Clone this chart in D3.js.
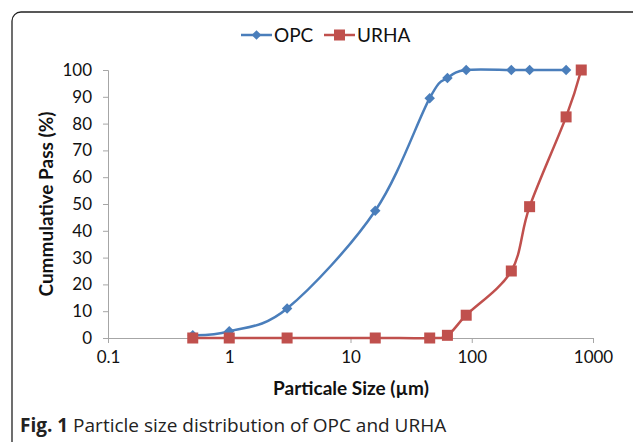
<!DOCTYPE html>
<html>
<head>
<meta charset="utf-8">
<script src="https://cdn.jsdelivr.net/npm/d3@7"></script>
<style>
    body { margin: 0; background: #fff; }
    svg { display: block; }
</style>
</head>
<body>
<div id="chart"></div>
<script>
// Particle size distribution data
const sizesOPC = [0.5, 1, 3, 16, 45, 63, 90, 212, 300, 600];
const passOPC = [1, 2.5, 11, 47.5, 89.5, 97, 100, 100, 100, 100];
const sizesURHA = [0.5, 1, 3, 16, 45, 63, 90, 212, 300, 600, 800];
const passURHA = [0, 0, 0, 0, 0, 1, 8.5, 25, 49, 82.5, 100];
const xTicks = [0.1, 1, 10, 100, 1000];
const yTicks = [0, 10, 20, 30, 40, 50, 60, 70, 80, 90, 100];
const seriesNames = ["OPC", "URHA"];

const W = 633, H = 442;
const chartFont = "Lato, 'Open Sans', sans-serif";
const blue = "#4a7ebb", red = "#c0504d", axisGrey = "#a6a6a6";

const svg = d3.select("#chart").append("svg")
    .attr("width", W)
    .attr("height", H);

// Outer rounded frame (runs off the right and bottom of the picture)
svg.append("rect")
    .attr("x", 12).attr("y", 12)
    .attr("width", 700).attr("height", 500)
    .attr("rx", 9)
    .attr("fill", "none")
    .attr("stroke", "#222")
    .attr("stroke-width", 1.3);

const x = d3.scaleLog().domain([0.1, 1000]).range([108, 593]);
const y = d3.scaleLinear().domain([0, 100]).range([338, 70]);

// Axes
const xAxis = svg.append("g")
    .attr("transform", `translate(0,${y(0)})`)
    .call(d3.axisBottom(x).tickValues(xTicks).tickSize(5).tickPadding(8)
        .tickFormat(d => String(d)));
const yAxis = svg.append("g")
    .attr("transform", `translate(${x(0.1)},0)`)
    .call(d3.axisLeft(y).tickValues(yTicks).tickSize(5).tickPadding(11));

[xAxis, yAxis].forEach(a => {
    a.select(".domain").attr("stroke", axisGrey).attr("stroke-width", 1);
    a.selectAll(".tick line").attr("stroke", axisGrey);
    a.selectAll(".tick text")
        .attr("fill", "#111")
        .style("font-family", chartFont)
        .style("font-size", "17px");
});

// Axis titles
svg.append("text")
    .attr("x", 351).attr("y", 395)
    .attr("text-anchor", "middle")
    .style("font-family", chartFont)
    .style("font-size", "19px")
    .style("font-weight", "bold")
    .attr("fill", "#111")
    .text("Particale Size (µm)");

svg.append("text")
    .attr("transform", "translate(53,204) rotate(-90)")
    .attr("text-anchor", "middle")
    .style("font-family", chartFont)
    .style("font-size", "19px")
    .style("font-weight", "bold")
    .attr("fill", "#111")
    .text("Cummulative Pass (%)");

// Series
const line = d3.line()
    .x(d => x(d[0]))
    .y(d => y(d[1]))
    .curve(d3.curveCardinal.tension(0));

const opc = sizesOPC.map((s, i) => [s, passOPC[i]]);
const urha = sizesURHA.map((s, i) => [s, passURHA[i]]);

svg.append("path")
    .datum(opc)
    .attr("d", line)
    .attr("fill", "none")
    .attr("stroke", blue)
    .attr("stroke-width", 2.5);

svg.append("path")
    .datum(urha)
    .attr("d", line)
    .attr("fill", "none")
    .attr("stroke", red)
    .attr("stroke-width", 2.5);

const diamond = d3.symbol().type(d3.symbolDiamond2).size(70);

svg.append("g").selectAll("path")
    .data(opc)
    .join("path")
    .attr("d", diamond)
    .attr("transform", d => `translate(${x(d[0])},${y(d[1])})`)
    .attr("fill", blue);

svg.append("g").selectAll("rect")
    .data(urha)
    .join("rect")
    .attr("x", d => x(d[0]) - 5.5)
    .attr("y", d => y(d[1]) - 5.5)
    .attr("width", 11).attr("height", 11)
    .attr("fill", red);

// Legend
const legend = svg.append("g").attr("transform", "translate(0,35)");
const legendItems = [
    { name: seriesNames[0], color: blue, x0: 241, marker: "diamond" },
    { name: seriesNames[1], color: red, x0: 324, marker: "square" }
];
legendItems.forEach(item => {
    legend.append("line")
        .attr("x1", item.x0).attr("x2", item.x0 + 31)
        .attr("stroke", item.color).attr("stroke-width", 2.5);
    if (item.marker === "diamond") {
        legend.append("path")
            .attr("d", d3.symbol().type(d3.symbolDiamond2).size(60))
            .attr("transform", `translate(${item.x0 + 15.5},0)`)
            .attr("fill", item.color);
    } else {
        legend.append("rect")
            .attr("x", item.x0 + 10).attr("y", -5.5)
            .attr("width", 11).attr("height", 11)
            .attr("fill", item.color);
    }
    legend.append("text")
        .attr("x", item.x0 + 33).attr("y", 6.5)
        .style("font-family", chartFont)
        .style("font-size", "19px")
        .attr("fill", "#111")
        .text(item.name);
});

// Caption
const caption = svg.append("text")
    .attr("x", 20).attr("y", 432)
    .style("font-family", "'Open Sans', sans-serif")
    .style("font-size", "19px")
    .attr("fill", "#222");
caption.append("tspan").style("font-weight", "bold").text("Fig. 1");
caption.append("tspan").text(" Particle size distribution of OPC and URHA");
</script>
</body>
</html>
